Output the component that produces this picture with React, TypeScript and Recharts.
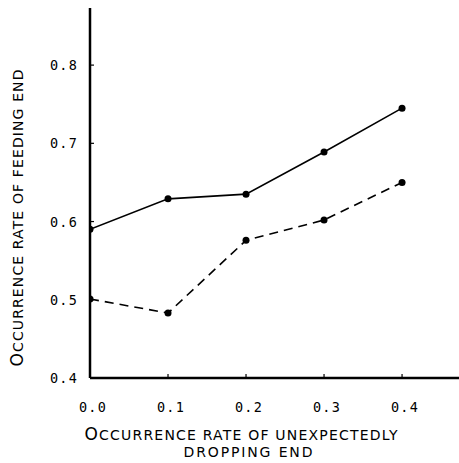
import { Line, LineChart, XAxis, YAxis } from 'recharts'

// occurrence rate of unexpectedly dropping end (x)
const dropRates = [0.0, 0.1, 0.2, 0.3, 0.4]
// occurrence rate of feeding end, solid and dashed curves
const solidRates = [0.59, 0.629, 0.635, 0.689, 0.745]
const dashedRates = [0.501, 0.483, 0.576, 0.602, 0.65]

const xTicks = [0.0, 0.1, 0.2, 0.3, 0.4]
const yTicks = [0.4, 0.5, 0.6, 0.7, 0.8]

const data = dropRates.map((x, i) => ({
  x,
  solid: solidRates[i],
  dashed: dashedRates[i],
}))

const tickFont = {
  fontFamily: '"DejaVu Sans Mono", monospace',
  fontSize: 13.5,
  letterSpacing: 1.2,
  fill: '#000',
}
const labelFont = { fontFamily: '"DejaVu Sans", sans-serif', fill: '#000' }

function YTick(props: any) {
  const { x, y, payload } = props
  return (
    <g>
      {payload.value > 0.4 && (
        <line x1={x + 12} x2={x + 16} y1={y} y2={y} stroke="#000" strokeWidth={1.2} />
      )}
      <text x={x} y={y} dy={5} textAnchor="end" {...tickFont}>
        {Number(payload.value).toFixed(1)}
      </text>
    </g>
  )
}

function XTick(props: any) {
  const { x, y, payload } = props
  return (
    <g>
      {payload.value > 0 && (
        <line x1={x} x2={x} y1={y} y2={y - 4} stroke="#000" strokeWidth={1.2} />
      )}
      <text x={x + 3} y={y + 34} textAnchor="middle" {...tickFont}>
        {Number(payload.value).toFixed(1)}
      </text>
    </g>
  )
}

function YLabel(props: any) {
  const vb = props.viewBox ?? { x: 0, y: 8, width: 90, height: 370 }
  const cx = vb.x + 23
  const cy = vb.y + vb.height / 2 + 25
  return (
    <text
      x={cx}
      y={cy}
      transform={`rotate(-90 ${cx} ${cy})`}
      textAnchor="middle"
      textLength={297}
      lengthAdjust="spacing"
      {...labelFont}
    >
      <tspan fontSize={17}>O</tspan>
      <tspan fontSize={14}>CCURRENCE RATE OF FEEDING END</tspan>
    </text>
  )
}

function XLabel(props: any) {
  const vb = props.viewBox ?? { x: 90, y: 378, width: 369, height: 85 }
  const cx = vb.x + 151
  return (
    <g>
      <text
        x={cx}
        y={vb.y + 62}
        textAnchor="middle"
        textLength={313}
        lengthAdjust="spacing"
        {...labelFont}
      >
        <tspan fontSize={17}>O</tspan>
        <tspan fontSize={14}>CCURRENCE RATE OF UNEXPECTEDLY</tspan>
      </text>
      <text
        x={cx + 7}
        y={vb.y + 79}
        textAnchor="middle"
        textLength={129}
        lengthAdjust="spacing"
        fontSize={14}
        {...labelFont}
      >
        DROPPING END
      </text>
    </g>
  )
}

export default function App() {
  return (
    <div style={{ position: 'absolute', left: 0, top: 0, background: '#fff' }}>
      <LineChart
        width={459}
        height={463}
        data={data}
        margin={{ top: 8, right: 0, bottom: 0, left: 0 }}
      >
        <XAxis
          dataKey="x"
          type="number"
          domain={[0, 0.473]}
          ticks={xTicks}
          allowDataOverflow
          height={85}
          axisLine={{ stroke: '#000', strokeWidth: 2.5 }}
          tickLine={false}
          tickSize={0}
          tickMargin={0}
          tick={<XTick />}
          interval={0}
          label={<XLabel />}
        />
        <YAxis
          type="number"
          domain={[0.4, 0.873]}
          ticks={yTicks}
          allowDataOverflow
          width={90}
          axisLine={{ stroke: '#000', strokeWidth: 2.5 }}
          tickLine={false}
          tickSize={0}
          tickMargin={12}
          tick={<YTick />}
          interval={0}
          label={<YLabel />}
        />
        <Line
          dataKey="solid"
          stroke="#000"
          strokeWidth={1.6}
          dot={{ r: 3.5, fill: '#000', stroke: '#000', strokeWidth: 0 }}
          isAnimationActive={false}
        />
        <Line
          dataKey="dashed"
          stroke="#000"
          strokeWidth={1.6}
          strokeDasharray="9 6"
          dot={{ r: 3.5, fill: '#000', stroke: '#000', strokeWidth: 0 }}
          isAnimationActive={false}
        />
      </LineChart>
    </div>
  )
}
